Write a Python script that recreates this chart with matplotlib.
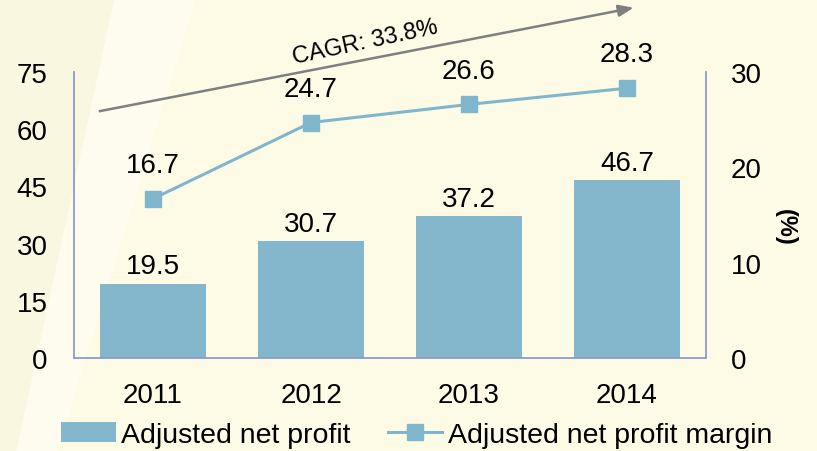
import matplotlib.pyplot as plt
from matplotlib.patches import Polygon, Patch

years = ["2011", "2012", "2013", "2014"]
net_profit = [19.5, 30.7, 37.2, 46.7]
margin = [16.7, 24.7, 26.6, 28.3]
cagr_text = "CAGR: 33.8%"

plt.rcParams['font.family'] = ['Liberation Sans', 'DejaVu Sans']

bg = "#fdfbe6"
bar_col = "#84b7cb"
spine_col = "#8c9bcc"

fig = plt.figure(figsize=(8.17, 4.52), dpi=100, facecolor=bg)

# faint light streaks on the left of the background
fig.patches.append(Polygon([[0, 1], [0.14, 1], [0.02, 0], [0, 0]], closed=True,
                           transform=fig.transFigure, facecolor="#f4f0d6", alpha=0.35,
                           edgecolor="none", zorder=-5))
fig.patches.append(Polygon([[0.14, 1], [0.24, 1], [0.07, 0], [0.02, 0]], closed=True,
                           transform=fig.transFigure, facecolor="#fffef6", alpha=0.5,
                           edgecolor="none", zorder=-5))

ax = fig.add_axes([0.0906, 0.2058, 0.7735, 0.6327])
ax.set_facecolor("none")
x = range(len(years))
ax.bar(x, net_profit, width=0.67, color=bar_col, zorder=2)
ax.set_ylim(0, 75)
ax.set_xlim(-0.5, 3.5)
ax.set_yticks([0, 15, 30, 45, 60, 75])
ax.set_xticks(list(x))
ax.set_xticklabels(years)
ax.tick_params(length=0, labelsize=20)
ax.tick_params(axis='x', pad=17)
ax.tick_params(axis='y', pad=19)
for s in ["top", "right"]:
    ax.spines[s].set_visible(False)
for s in ["left", "bottom"]:
    ax.spines[s].set_color(spine_col)
    ax.spines[s].set_linewidth(1.3)

for i, v in enumerate(net_profit):
    ax.annotate(f"{v}", (i, v), xytext=(0, 3), textcoords="offset points",
                ha="center", va="bottom", fontsize=20)

ax2 = ax.twinx()
ax2.set_ylim(0, 30)
ax2.set_yticks([0, 10, 20, 30])
ax2.tick_params(length=0, labelsize=20, pad=18)
for s in ["top", "left", "bottom"]:
    ax2.spines[s].set_visible(False)
ax2.spines["right"].set_color(spine_col)
ax2.spines["right"].set_linewidth(1.3)
line, = ax2.plot(list(x), margin, color="#80b6cc", lw=2.2, marker="s", markersize=11,
                 label="Adjusted net profit margin", zorder=3)
for i, v in enumerate(margin):
    ax2.annotate(f"{v}", (i, v), xytext=(0, 15), textcoords="offset points",
                 ha="center", va="bottom", fontsize=20)
ax2.set_ylabel("(%)", rotation=270, fontsize=17, fontweight="bold", va="center")
ax2.yaxis.set_label_coords(1.125, 0.46)

# CAGR arrow
fig.add_artist(plt.Line2D([0.1224, 0.765], [0.752, 0.977], transform=fig.transFigure,
                          color="#7f7f7f", lw=1.8))
ax.annotate("", xy=(0.779, 0.982), xycoords="figure fraction",
            xytext=(0.755, 0.9735), textcoords="figure fraction",
            arrowprops=dict(arrowstyle="-|>,head_length=0.9,head_width=0.35",
                        color="#7f7f7f", lw=1.8))
fig.text(0.447, 0.905, cagr_text, rotation=12, ha="center", va="center", fontsize=17)

bar_handle = Patch(facecolor=bar_col, edgecolor="none", label="Adjusted net profit")
fig.legend(handles=[bar_handle, line], loc="lower center", bbox_to_anchor=(0.51, -0.05),
           ncol=2, frameon=False, fontsize=20.5, handlelength=1.9, handleheight=0.75,
           columnspacing=1.3, handletextpad=0.2)

fig.savefig("out.png", dpi=100, facecolor=bg)
